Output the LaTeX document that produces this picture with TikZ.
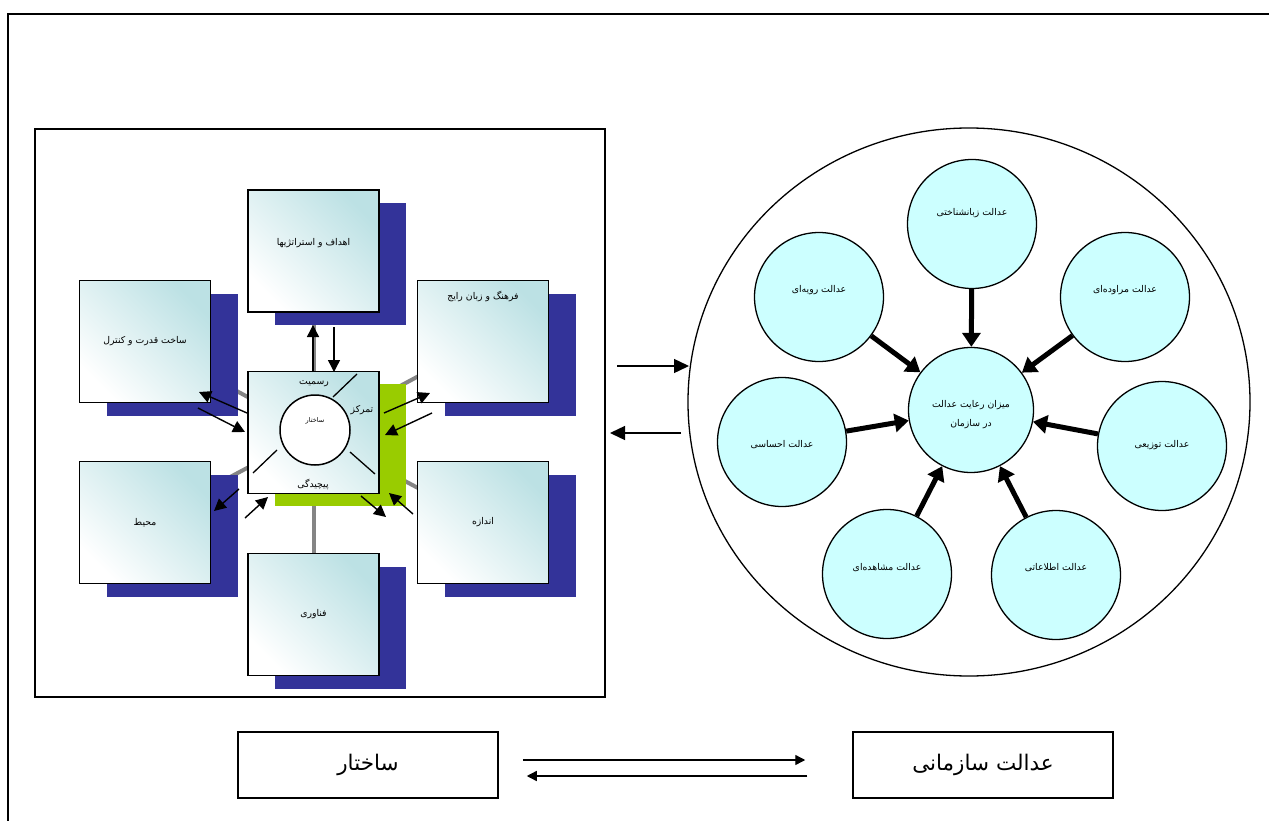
\documentclass[tikz,border=0pt]{standalone}
\usepackage{fontspec}
\newfontfamily\fa[Script=Arabic]{DejaVu Sans}
\TeXXeTstate=1
\usetikzlibrary{arrows.meta,shapes.geometric,shadows}
\definecolor{navy}{HTML}{333399}
\definecolor{limeg}{HTML}{99CC00}
\definecolor{boxc}{HTML}{BCE1E4}
\definecolor{jcol}{HTML}{CCFFFF}
\definecolor{glin}{HTML}{858585}
\pgfdeclarelayer{bg}
\pgfsetlayers{bg,main}
\newcommand\fr[1]{{\fa\beginR #1\endR}}
\begin{document}
\begin{tikzpicture}[x=1pt,y=-1pt,
  sbox/.style={draw, line width=1.5pt, minimum width=131pt, minimum height=122pt, inner sep=0pt,
    top color=white, bottom color=boxc, shading angle=135, font=\fontsize{9.3}{11}\selectfont},
  nshadow/.style={drop shadow={shadow xshift=27pt, shadow yshift=-13pt, fill=navy, opacity=1}},
  gshadow/.style={drop shadow={shadow xshift=27pt, shadow yshift=-12pt, fill=limeg, opacity=1}},
  txt/.style={inner sep=0pt, font=\fontsize{9.3}{11}\selectfont},
  stxt/.style={inner sep=0pt, font=\fontsize{6.5}{8}\selectfont},
  gline/.style={draw=glin, line width=4pt},
  arr/.style={line width=1.4pt, -{Triangle[length=12pt,width=12pt]}},
  parr/.style={line width=1.4pt, -{Triangle[length=15pt,width=14pt]}},
  barr/.style={line width=1.4pt, -{Triangle[length=10pt,width=10pt]}},
  tarr/.style={line width=5pt, -{Triangle[length=14pt,width=18pt]}},
  jcirc/.style={circle, draw, line width=1.3pt, fill=jcol, minimum size=129pt, inner sep=0pt},
  bbox/.style={draw, line width=1.5pt, minimum width=260pt, minimum height=66pt, inner sep=0pt,
    font=\fontsize{21.5}{24}\selectfont}
]
\useasboundingbox (0,0) rectangle (1269,821);
% outer frame
\draw[line width=2.5pt] (8,821) -- (8,14) -- (1269,14);

% left panel
\node[draw, line width=1.2pt, minimum width=570pt, minimum height=568pt, inner sep=0pt] (panel) at (320,413) {};

\node[sbox, nshadow] (T) at (313.5,251) {};
\node[txt] (Tt) at (313.5,243) {\fr{اهداف و استراتژیها}};
\node[sbox, nshadow] (L) at (145,341.5) {\fr{ساخت قدرت و کنترل}};
\node[sbox, nshadow] (R) at (483,341.5) {};
\node[txt] (Rt) at (483,296) {\fr{فرهنگ و زبان رایج}};
\node[sbox, nshadow] (LB) at (145,522.5) {\fr{محیط}};
\node[sbox, nshadow] (RB) at (483,522.5) {\fr{اندازه}};
\node[sbox, nshadow] (B) at (313.5,614.5) {\fr{فناوری}};
\node[sbox, gshadow] (C) at (313.5,432.5) {};

\begin{pgfonlayer}{bg}
\foreach \n in {T,L,R,LB,RB,B}{\draw[gline] (C.center) -- (\n.center);}
\end{pgfonlayer}

% inside the centre box
\node[circle, draw, line width=1.5pt, fill=white, minimum size=70pt, inner sep=0pt] (sc) at (315,430) {};
\node[stxt] (sct) at (315,421) {\fr{ساختار}};
\node[txt] (c1) at (314,384) {\fr{رسمیت}};
\node[txt] (c2) at (362,410) {\fr{تمرکز}};
\node[txt] (c3) at (313,484) {\fr{پیچیدگی}};
\draw[line width=1.3pt] (333,397) -- (357,374);
\draw[line width=1.3pt] (253,473) -- (277,450);
\draw[line width=1.3pt] (350,452) -- (375,474);

% arrows of the left panel
\coordinate (a1s) at (247,413); \coordinate (a1e) at (199,392);
\coordinate (a2s) at (198,408); \coordinate (a2e) at (245,432);
\coordinate (a3s) at (384,413); \coordinate (a3e) at (430,393);
\coordinate (a4s) at (432,413); \coordinate (a4e) at (385,435);
\coordinate (a5s) at (239,489); \coordinate (a5e) at (214,511);
\coordinate (a6s) at (245,518); \coordinate (a6e) at (268,497);
\coordinate (a7s) at (361,496); \coordinate (a7e) at (386,517);
\coordinate (a8s) at (413,514); \coordinate (a8e) at (389,493);
\coordinate (a9s) at (313,372); \coordinate (a9e) at (313,325);
\coordinate (a10s) at (334,327); \coordinate (a10e) at (334,372);
\foreach \k in {1,...,10}{\draw[arr] (a\k s) -- (a\k e);}

% right panel
\node[ellipse, draw, line width=1.3pt, minimum width=562pt, minimum height=548pt, inner sep=0pt] (ell) at (969,402) {};
\node[jcirc, minimum size=125pt] (m) at (971,410) {};
\node[txt, align=center] (mt) at (971,415) {\fr{میزان رعایت عدالت}\\[8pt]\fr{در سازمان}};
\node[jcirc] (z) at (972,224) {};
\node[txt] (zt) at (972,213) {\fr{عدالت زبانشناختی}};
\node[jcirc] (rv) at (819,297) {};
\node[txt] (rvt) at (819,290) {\fr{عدالت رویه^^^^200cای}};
\node[jcirc] (mr) at (1125,297) {};
\node[txt] (mrt) at (1125,290) {\fr{عدالت مراوده^^^^200cای}};
\node[jcirc] (eh) at (782,442) {};
\node[txt] (eht) at (782,445) {\fr{عدالت احساسی}};
\node[jcirc] (tz) at (1162,446) {};
\node[txt] (tzt) at (1162,445) {\fr{عدالت توزیعی}};
\node[jcirc] (ms) at (887,574) {};
\node[txt] (mst) at (887,568) {\fr{عدالت مشاهده^^^^200cای}};
\node[jcirc] (et) at (1056,575) {};
\node[txt] (ett) at (1056,568) {\fr{عدالت اطلاعاتی}};
\foreach \n in {z,rv,mr,eh,tz,ms,et}{\draw[tarr] (\n) -- (m);}

% arrows between the panels
\coordinate (p1s) at (617,366); \coordinate (p1e) at (689,366);
\coordinate (p2s) at (681,433); \coordinate (p2e) at (610,433);
\draw[parr] (p1s) -- (p1e);
\draw[parr] (p2s) -- (p2e);

% bottom
\node[bbox] (bs) at (368,765) {\fr{ساختار}};
\node[bbox] (bj) at (983,765) {\fr{عدالت سازمانی}};
\draw[barr] ([xshift=24pt,yshift=5pt]bs.east) -- ([xshift=-47pt,yshift=5pt]bj.west);
\draw[barr] ([xshift=-45pt,yshift=-11pt]bj.west) -- ([xshift=28pt,yshift=-11pt]bs.east);
\end{tikzpicture}
\end{document}
